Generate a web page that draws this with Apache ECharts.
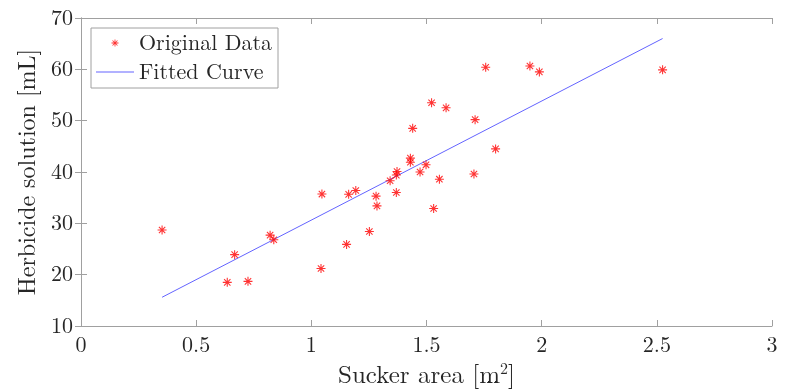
<!DOCTYPE html>
<html>
<head>
<meta charset="utf-8">
<script src="https://cdn.jsdelivr.net/npm/echarts@6/dist/echarts.min.js"></script>
<style>
html,body{margin:0;padding:0;background:#fff;}
#chart{width:789px;height:389px;}
</style>
</head>
<body>
<div id="chart"></div>
<script>
// Data
var suckerArea = [0.352, 0.635, 0.667, 0.725, 0.821, 0.837, 1.042, 1.046, 1.153, 1.162,
                  1.193, 1.252, 1.281, 1.285, 1.342, 1.369, 1.372, 1.369, 1.430, 1.430,
                  1.440, 1.472, 1.498, 1.522, 1.531, 1.556, 1.585, 1.706, 1.711, 1.757,
                  1.800, 1.949, 1.990, 2.525];
var herbicide = [28.7, 18.5, 23.9, 18.7, 27.7, 26.8, 21.2, 35.7, 25.9, 35.65,
                 36.4, 28.4, 35.3, 33.4, 38.3, 39.4, 40.1, 36.0, 42.7, 41.9,
                 48.5, 40.0, 41.4, 53.5, 32.9, 38.6, 52.5, 39.6, 50.2, 60.4,
                 44.5, 60.65, 59.5, 59.9];
var fitX = [0.352, 2.525];
var fitY = [15.6, 66.0];
var xTicks = [0, 0.5, 1, 1.5, 2, 2.5, 3];
var yTicks = [10, 20, 30, 40, 50, 60, 70];

var scatterData = suckerArea.map(function (x, i) { return [x, herbicide[i]]; });
var fitData = fitX.map(function (x, i) { return [x, fitY[i]]; });

var star = 'M-0.12,-1 L0.12,-1 L0.12,1 L-0.12,1 Z ' +
           'M-1,-0.12 L1,-0.12 L1,0.12 L-1,0.12 Z ' +
           'M-0.622,-0.792 L0.792,0.622 L0.622,0.792 L-0.792,-0.622 Z ' +
           'M-0.622,0.792 L-0.792,0.622 L0.622,-0.792 L0.792,-0.622 Z';
var starIcon = 'path://M-2,-2 L-2,-2 Z M2,2 L2,2 Z ' + star;
var lineIcon = 'path://M0,-0.5 L38,-0.5 L38,0.5 L0,0.5 Z';

var FONT = '"Latin Modern Roman", "Liberation Serif", serif';
var TXT = '#262626';
var AX = '#a0a0a0';
var FIT = '#6464ff';

var chart = echarts.init(document.getElementById('chart'), null, {renderer: 'canvas'});
chart.setOption({
  backgroundColor: '#fff',
  animation: false,
  grid: {left: 81, right: 17, top: 18, bottom: 63, containLabel: false, outerBoundsMode: 'none'},
  legend: {
    left: 91, top: 28, orient: 'vertical',
    backgroundColor: '#fff',
    borderColor: AX, borderWidth: 1, borderRadius: 0,
    padding: [4, 6, 5, 5], itemGap: 7,
    itemWidth: 38, itemHeight: 14,
    textStyle: {fontFamily: FONT, fontSize: 22, color: TXT, lineHeight: 22},
    data: [
      {name: 'Original Data', icon: starIcon},
      {name: 'Fitted Curve', icon: lineIcon, itemStyle: {color: FIT}}
    ]
  },
  xAxis: [{
    type: 'value', min: 0, max: 3, interval: 0.5, position: 'bottom',
    name: 'Sucker area [m{sup|2}]', nameLocation: 'middle', nameGap: 34,
    nameTextStyle: {fontFamily: FONT, fontSize: 25, color: TXT,
      rich: {sup: {fontFamily: FONT, fontSize: 16, color: TXT, verticalAlign: 'top', padding: [0,0,12,0]}}},
    axisLine: {show: true, lineStyle: {color: AX, width: 1}},
    axisTick: {show: true, inside: true, length: 6, lineStyle: {color: AX}},
    axisLabel: {fontFamily: FONT, fontSize: 22, color: TXT, margin: 8,
      formatter: function (v) { return String(v); }},
    splitLine: {show: false}
  }, {
    type: 'value', min: 0, max: 3, interval: 0.5, position: 'top',
    axisLine: {show: true, lineStyle: {color: AX, width: 1}},
    axisTick: {show: true, inside: true, length: 6, lineStyle: {color: AX}},
    axisLabel: {show: false}, splitLine: {show: false}
  }],
  yAxis: [{
    type: 'value', min: 10, max: 70, interval: 10, position: 'left',
    name: 'Herbicide solution [mL]', nameLocation: 'middle', nameGap: 38, nameRotate: 90,
    nameTextStyle: {fontFamily: FONT, fontSize: 24, color: TXT},
    axisLine: {show: true, lineStyle: {color: AX, width: 1}},
    axisTick: {show: true, inside: true, length: 6, lineStyle: {color: AX}},
    axisLabel: {fontFamily: FONT, fontSize: 22, color: TXT, margin: 8},
    splitLine: {show: false}
  }, {
    type: 'value', min: 10, max: 70, interval: 10, position: 'right',
    axisLine: {show: true, lineStyle: {color: AX, width: 1}},
    axisTick: {show: true, inside: true, length: 6, lineStyle: {color: AX}},
    axisLabel: {show: false}, splitLine: {show: false}
  }],
  series: [{
    name: 'Original Data', type: 'scatter', xAxisIndex: 0, yAxisIndex: 0,
    symbol: 'path://' + star, symbolSize: 9,
    itemStyle: {color: '#ff0000'},
    data: scatterData, z: 3
  }, {
    name: 'Fitted Curve', type: 'line', xAxisIndex: 0, yAxisIndex: 0,
    showSymbol: false, symbol: 'none',
    lineStyle: {color: FIT, width: 1},
    itemStyle: {color: FIT},
    data: fitData, z: 2
  }]
});
</script>
</body>
</html>
